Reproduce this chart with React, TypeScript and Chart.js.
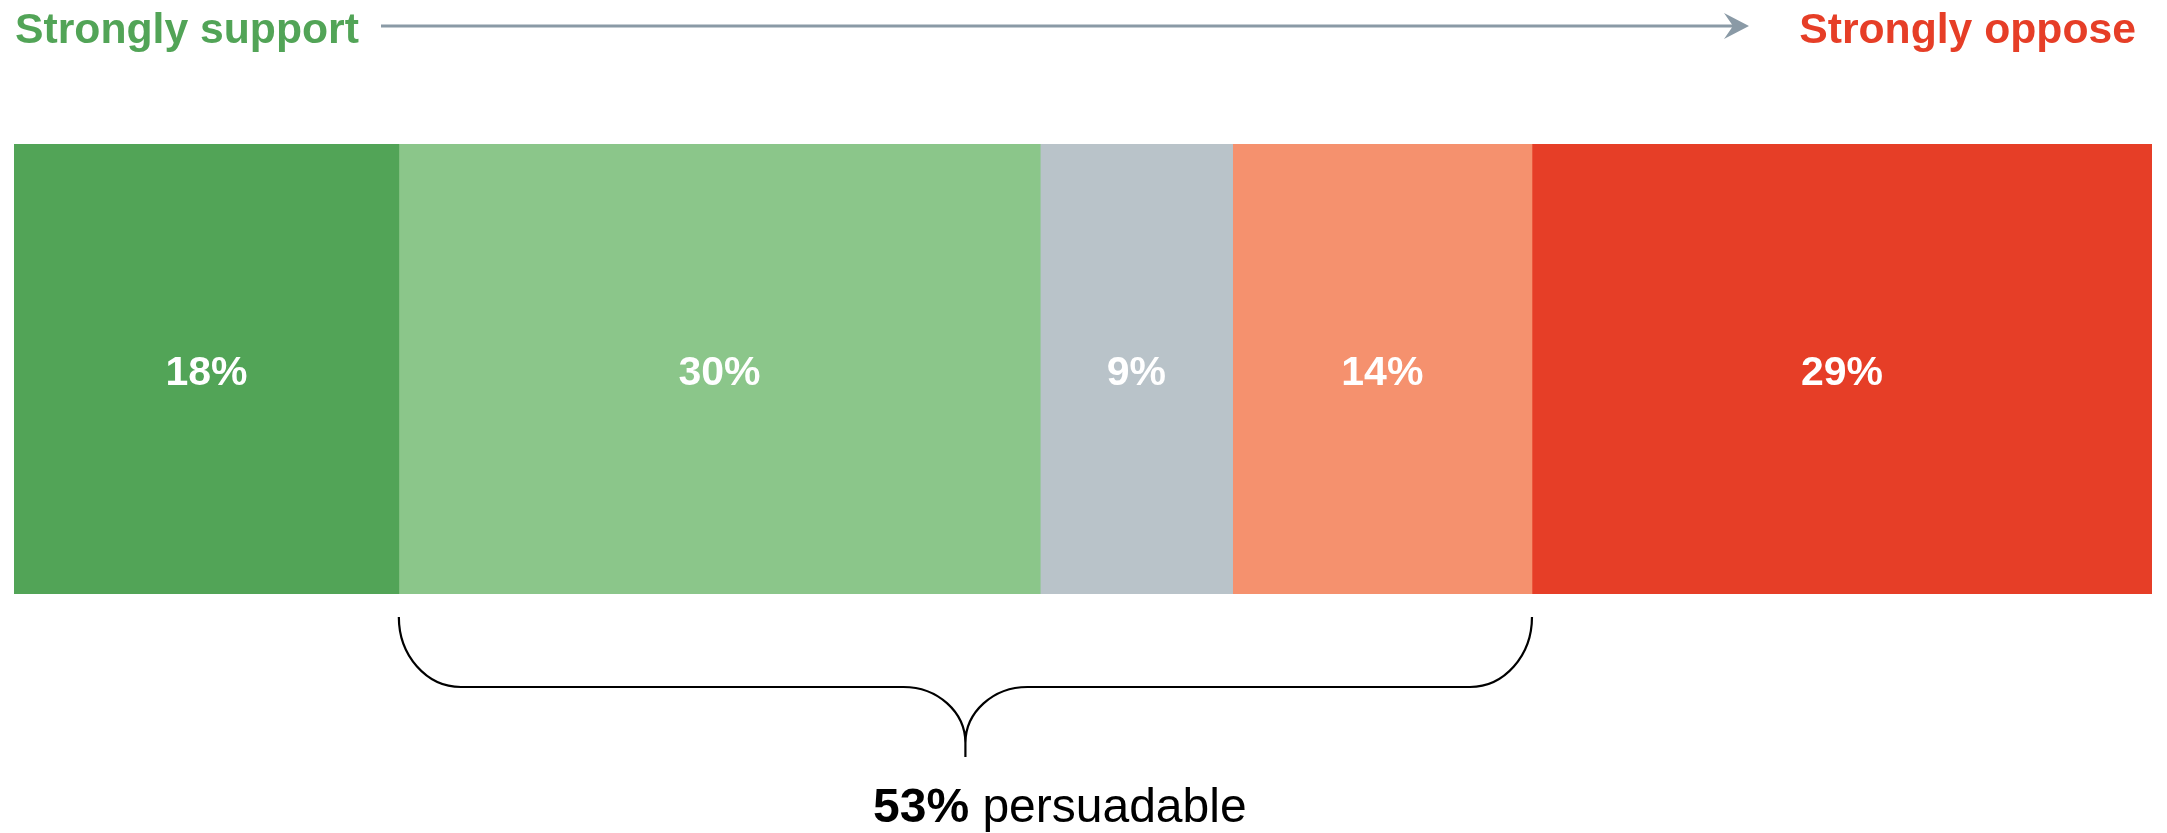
import React, { useEffect, useRef } from "react";
import { Chart, registerables } from "chart.js";

Chart.register(...registerables);

const categories = ["Opinion"];
const segmentLabels = ["Strongly support", "Somewhat support", "Undecided", "Somewhat oppose", "Strongly oppose"];
const segmentValues = [18, 30, 9, 14, 29];
const segmentColors = ["#52a457", "#8bc68a", "#b9c3c9", "#f5916e", "#e63e27"];
const persuadableSegments = [1, 2, 3];
const headerLeft = "Strongly support";
const headerRight = "Strongly oppose";
const persuadableWord = "persuadable";

const FONT = '"Liberation Sans", Arial, Helvetica, sans-serif';

const overlayPlugin = {
  id: "overlay",
  afterDatasetsDraw(chart: any) {
    const ctx = chart.ctx as CanvasRenderingContext2D;
    const area = chart.chartArea;
    const xs = chart.scales.x;
    ctx.save();

    // segment labels
    ctx.fillStyle = "#ffffff";
    ctx.font = `bold 41px ${FONT}`;
    ctx.textAlign = "center";
    ctx.textBaseline = "alphabetic";
    chart.data.datasets.forEach((ds: any, i: number) => {
      const el = chart.getDatasetMeta(i).data[0];
      if (!el) return;
      const cx = (el.x + el.base) / 2;
      const cy = el.y;
      ctx.fillText(`${ds.data[0]}%`, cx, cy + 15.5);
    });

    // header texts
    ctx.font = `bold 42.7px ${FONT}`;
    ctx.textAlign = "left";
    ctx.fillStyle = segmentColors[0];
    ctx.fillText(headerLeft, area.left + 1, 43);
    ctx.textAlign = "right";
    ctx.fillStyle = segmentColors[4];
    ctx.fillText(headerRight, 2136, 43);

    // arrow
    const arrowColor = "#8a9aa6";
    const ay = 26;
    ctx.strokeStyle = arrowColor;
    ctx.lineWidth = 3;
    ctx.beginPath();
    ctx.moveTo(381, ay);
    ctx.lineTo(1736, ay);
    ctx.stroke();
    ctx.fillStyle = arrowColor;
    ctx.beginPath();
    ctx.moveTo(1749, ay);
    ctx.lineTo(1724, ay - 13);
    ctx.lineTo(1733, ay);
    ctx.lineTo(1724, ay + 13);
    ctx.closePath();
    ctx.fill();

    // brace
    const before = segmentValues.slice(0, persuadableSegments[0]).reduce((a, b) => a + b, 0);
    const persuadable = persuadableSegments.reduce((a, i) => a + segmentValues[i], 0);
    const x0 = xs.getPixelForValue(before);
    const x1 = xs.getPixelForValue(before + persuadable);
    const mid = (x0 + x1) / 2;
    const yTop = area.bottom + 23;
    const yLine = 687;
    const yTip = 757;
    const rx = 62;
    const ry = 70;
    const k = 0.5523;
    const mrx = 62;
    const mry = 56;
    ctx.strokeStyle = "#000000";
    ctx.lineWidth = 2.2;
    ctx.beginPath();
    ctx.moveTo(x0, yTop);
    ctx.bezierCurveTo(x0, yTop + ry * k, x0 + rx - rx * k, yLine, x0 + rx, yLine);
    ctx.lineTo(mid - mrx, yLine);
    ctx.bezierCurveTo(mid - mrx + mrx * k, yLine, mid, yLine + mry - mry * k, mid, yLine + mry);
    ctx.lineTo(mid, yTip);
    ctx.moveTo(mid, yLine + mry);
    ctx.bezierCurveTo(mid, yLine + mry - mry * k, mid + mrx - mrx * k, yLine, mid + mrx, yLine);
    ctx.lineTo(x1 - rx, yLine);
    ctx.bezierCurveTo(x1 - rx + rx * k, yLine, x1, yTop + ry * k, x1, yTop);
    ctx.stroke();

    // persuadable text
    ctx.fillStyle = "#000000";
    ctx.textAlign = "left";
    ctx.font = `bold 48px ${FONT}`;
    const boldPart = `${persuadable}%`;
    const tx = 873;
    const ty = 822;
    ctx.fillText(boldPart, tx, ty);
    const w = ctx.measureText(boldPart).width;
    ctx.font = `48px ${FONT}`;
    const sp = ctx.measureText(" ").width;
    ctx.fillText(persuadableWord, tx + w + sp, ty);

    ctx.restore();
  },
};

export default function App() {
  const ref = useRef<HTMLCanvasElement | null>(null);
  useEffect(() => {
    if (!ref.current) return;
    const chart = new Chart(ref.current, {
      type: "bar",
      data: {
        labels: categories,
        datasets: segmentLabels.map((label, i) => ({
          label,
          data: [segmentValues[i]],
          backgroundColor: segmentColors[i],
          borderWidth: 0,
          barPercentage: 1,
          categoryPercentage: 1,
        })),
      },
      options: {
        indexAxis: "y",
        responsive: false,
        animation: false,
        layout: { padding: { left: 14, right: 15, top: 144, bottom: 239 } },
        scales: {
          x: { stacked: true, min: 0, max: 100, display: false },
          y: { stacked: true, display: false },
        },
        plugins: {
          legend: { display: false },
          tooltip: { enabled: false },
        },
      },
      plugins: [overlayPlugin],
    });
    return () => chart.destroy();
  }, []);
  return (
    <div style={{ position: "fixed", left: 0, top: 0, width: 2167, height: 833, background: "#ffffff" }}>
      <canvas ref={ref} width={2167} height={833} style={{ display: "block", width: 2167, height: 833 }} />
    </div>
  );
}
